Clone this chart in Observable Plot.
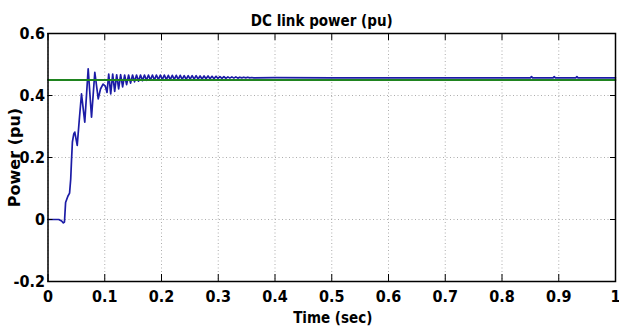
<!DOCTYPE html>
<html>
<head>
<meta charset="utf-8">
<script src="https://cdn.jsdelivr.net/npm/d3@7"></script>
<script src="https://cdn.jsdelivr.net/npm/@observablehq/plot@0.6"></script>
<style>
  html, body { margin: 0; padding: 0; background: #fff; }
  #chart svg { display: block; }
</style>
</head>
<body>
<div id="chart"></div>
<script>
// ---- data ----
const title = "DC link power (pu)";
const xLabel = "Time (sec)";
const yLabel = "Power (pu)";
const xTicks = [0, 0.1, 0.2, 0.3, 0.4, 0.5, 0.6, 0.7, 0.8, 0.9, 1];
const xTickLabels = ["0", "0.1", "0.2", "0.3", "0.4", "0.5", "0.6", "0.7", "0.8", "0.9", "1"];
const yTicks = [-0.2, 0, 0.2, 0.4, 0.6];
const yTickLabels = ["-0.2", "0", "0.2", "0.4", "0.6"];
const refTime = [0, 1];
const refPower = [0.45, 0.45];
const time = [
  0, 0.019, 0.024, 0.027, 0.029, 0.031, 0.035, 0.038, 0.040, 0.0414, 0.043, 0.0455, 0.0472,
  0.0515, 0.0555, 0.059, 0.0648, 0.0708, 0.0767, 0.0825, 0.0885, 0.0925, 0.097, 0.101, 0.104,
  0.107, 0.1105, 0.114, 0.1175, 0.121, 0.1245, 0.128, 0.1315, 0.135, 0.1385,
  0.142, 0.1455, 0.149, 0.1525, 0.156, 0.1595, 0.163, 0.1665, 0.170, 0.1735,
  0.177, 0.1805, 0.184, 0.1875, 0.191, 0.1945, 0.198, 0.2015, 0.205, 0.2085,
  0.212, 0.2155, 0.219, 0.2225, 0.226, 0.2295, 0.233, 0.2365, 0.240, 0.2435,
  0.247, 0.2505, 0.254, 0.2575, 0.261, 0.2645, 0.268, 0.2715, 0.275, 0.2785,
  0.282, 0.2855, 0.289, 0.2925, 0.296, 0.2995, 0.303, 0.3065, 0.310, 0.3135,
  0.317, 0.3205, 0.324, 0.3275, 0.331, 0.3345, 0.338, 0.3415, 0.345, 0.3485,
  0.352, 0.3555, 0.359, 0.3625, 0.40, 0.5, 0.6, 0.7, 0.8, 0.85, 0.852, 0.854,
  0.89, 0.892, 0.894, 0.93, 0.932, 0.934, 1.0
];
const power = [
  0, 0, -0.005, -0.011, -0.008, 0.055, 0.075, 0.085, 0.13, 0.19, 0.25, 0.277, 0.282,
  0.239, 0.33, 0.405, 0.314, 0.486, 0.33, 0.475, 0.389, 0.421, 0.437, 0.43, 0.41,
  0.469, 0.405, 0.469, 0.413, 0.467, 0.421, 0.467, 0.428, 0.466, 0.435,
  0.466, 0.44, 0.466, 0.444, 0.466, 0.446, 0.466, 0.448, 0.466, 0.449,
  0.466, 0.45, 0.466, 0.45, 0.466, 0.451, 0.466, 0.451, 0.466, 0.451,
  0.465, 0.451, 0.465, 0.452, 0.465, 0.452, 0.465, 0.452, 0.464, 0.452,
  0.464, 0.453, 0.464, 0.453, 0.464, 0.453, 0.463, 0.453, 0.463, 0.454,
  0.463, 0.454, 0.462, 0.454, 0.462, 0.455, 0.461, 0.455, 0.461, 0.455,
  0.46, 0.456, 0.46, 0.456, 0.46, 0.456, 0.459, 0.457, 0.459, 0.457,
  0.459, 0.457, 0.458, 0.457, 0.4575, 0.457, 0.457, 0.457, 0.457, 0.457, 0.461, 0.457,
  0.457, 0.461, 0.457, 0.457, 0.461, 0.457, 0.457
];

const series = time.map((t, i) => ({t, p: power[i]}));
const ref = refTime.map((t, i) => ({t, p: refPower[i]}));

const W = 619, H = 327;
const mL = 47.5, mR = 4, mT = 33, mB = 46;
const pw = W - mL - mR, ph = H - mT - mB;
const narrow = "'Liberation Sans Narrow', 'Arial Narrow', 'DejaVu Sans Condensed', sans-serif";

const chart = Plot.plot({
  width: W,
  height: H,
  marginLeft: mL,
  marginRight: mR,
  marginTop: mT,
  marginBottom: mB,
  style: {fontFamily: narrow, background: "#fff", overflow: "visible"},
  x: {domain: [0, 1]},
  y: {domain: [-0.2, 0.6]},
  marks: [
    Plot.gridX(xTicks, {stroke: "#999", strokeOpacity: 0.8, strokeDasharray: "1,2.5", strokeWidth: 1}),
    Plot.gridY(yTicks, {stroke: "#999", strokeOpacity: 0.8, strokeDasharray: "1,2.5", strokeWidth: 1}),
    Plot.line(series, {x: "t", y: "p", stroke: "#1c1ca6", strokeWidth: 1.7}),
    Plot.line(ref, {x: "t", y: "p", stroke: "#1f841f", strokeWidth: 1.8}),
    // inward ticks
    Plot.tickX(xTicks, {x: d => d, insetTop: ph - 7, stroke: "#000", strokeWidth: 1}),
    Plot.tickX(xTicks, {x: d => d, insetBottom: ph - 7, stroke: "#000", strokeWidth: 1}),
    Plot.tickY(yTicks, {y: d => d, insetRight: pw - 5, stroke: "#000", strokeWidth: 1}),
    Plot.tickY(yTicks, {y: d => d, insetLeft: pw - 5, stroke: "#000", strokeWidth: 1}),
    Plot.frame({stroke: "#000", strokeWidth: 1.5}),
    Plot.axisX(xTicks, {
      anchor: "bottom", tickSize: 0, tickPadding: 9, label: null,
      tickFormat: (d, i) => xTickLabels[i],
      fontSize: 16, fontWeight: "bold", fill: "#000"
    }),
    Plot.axisY(yTicks, {
      anchor: "left", tickSize: 0, tickPadding: 3, label: null,
      tickFormat: (d, i) => yTickLabels[i],
      fontSize: 16, fontWeight: "bold", fill: "#000"
    }),
    Plot.text([title], {
      frameAnchor: "top", dy: -8, dx: -10, lineAnchor: "bottom",
      fontSize: 15, fontWeight: "bold", fill: "#000"
    }),
    Plot.text([xLabel], {
      frameAnchor: "bottom", dy: 41, dx: 1, lineAnchor: "bottom",
      fontSize: 15, fontWeight: "bold", fill: "#000"
    }),
    Plot.text([yLabel], {
      frameAnchor: "left", dx: -33, dy: 0, rotate: -90, textAnchor: "middle", lineAnchor: "middle",
      fontSize: 16, fontWeight: "bold", fill: "#000",
      fontFamily: "'DejaVu Sans', sans-serif"
    })
  ]
});
document.getElementById("chart").appendChild(chart);
</script>
</body>
</html>
